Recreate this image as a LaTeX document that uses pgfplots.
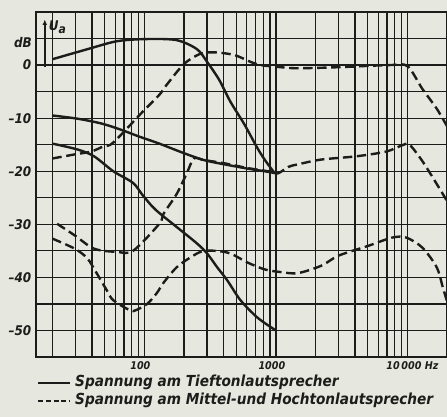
\documentclass[border=0pt]{standalone}
\usepackage{pgfplots}
\pgfplotsset{compat=1.18}
\usepackage{fontspec}
\setmainfont{DejaVu Sans Condensed}
\usetikzlibrary{arrows.meta}
\definecolor{paper}{RGB}{230,231,222}
\definecolor{ink}{RGB}{28,28,26}
\pagecolor{paper}
\begin{document}
\begin{tikzpicture}
\begin{axis}[
  xmode=log, xmin=15, xmax=20000, ymin=-55, ymax=10,
  scale only axis, width=308.25pt, height=258.75pt,
  axis line style={ink, line width=1.2pt},
  xtick={100,1000,10000}, xticklabels={100,1000,{}},
  minor xtick={20,30,40,50,60,70,80,90,200,300,400,500,600,700,800,900,2000,3000,4000,5000,6000,7000,8000,9000},
  ytick={-50,-45,-40,-35,-30,-25,-20,-15,-10,-5,0,5},
  yticklabels={--50,,--40,,--30,,--20,,--10,,0,},
  grid=both,
  major grid style={ink, line width=0.95pt},
  minor grid style={ink, line width=0.95pt},
  major tick length=0pt, minor tick length=0pt,
  yticklabel style={font=\bfseries\itshape\fontsize{10}{12}\selectfont, ink},
  xticklabel style={font=\bfseries\itshape\fontsize{8}{9}\selectfont, ink, xshift=-3pt},
  legend style={at={(0,0)}, anchor=north west, xshift=1pt, yshift=-13pt,
    draw=none, fill=none, inner sep=0pt, outer sep=0pt,
    font=\bfseries\itshape\fontsize{11.4}{13}\selectfont, text=ink,
    row sep=0pt, column sep=2pt,
    nodes={inner sep=1pt, text height=8.5pt, text depth=3pt, anchor=west}},
  legend cell align=left,
  legend image code/.code={\draw[#1] (0pt,0pt) -- (24pt,0pt);},
  every axis plot/.append style={ink, line width=1.8pt, smooth, tension=0.5},
]
\coordinate (sw) at (rel axis cs:0,0);
\coordinate (ne) at (rel axis cs:1,1);
\coordinate (tk) at (axis cs:10000,-55);
\addlegendimage{ink, line width=1.4pt, solid}
\addlegendentry{Spannung am Tieftonlautsprecher}
\addlegendimage{ink, line width=1.4pt, dash pattern=on 3.6pt off 2.2pt}
\addlegendentry{Spannung am Mittel-und Hochtonlautsprecher}
% Tiefton (solid)
\addplot[forget plot] coordinates {(20,1.1) (37,3.0) (62,4.5) (104,4.9) (176,4.7) (251,3.0) (300,0.6) (371,-2.8) (451,-6.9) (577,-11.2) (726,-15.7) (837,-18.1) (982,-20.4)};
\addplot[forget plot] coordinates {(20,-9.5) (31,-10.1) (47,-11) (65,-12.1) (92,-13.5) (130,-14.8) (200,-16.6) (284,-17.9) (405,-18.7) (609,-19.5) (867,-20.1) (1000,-20.4)};
\addplot[forget plot] coordinates {(20,-14.8) (31,-15.9) (41.5,-17.2) (58,-20) (82,-22.2) (97,-24.5) (121,-27.2) (176,-30.5) (251,-33.6) (300,-35.5) (358,-38.1) (428,-40.6) (538,-44.3) (726,-47.6) (1000,-50)};
% Mittel- und Hochton (dashed)
\addplot[forget plot, dash pattern=on 7pt off 3.5pt] coordinates {(20,-17.6) (30,-16.8) (39.4,-16.3) (49,-15.3) (58,-14.6) (97,-8.8) (130,-5.6) (148,-3.7) (200,0.2) (265,2.1) (339,2.4) (483,1.9) (642,0.6) (768,0) (1090,-0.4) (1470,-0.6) (3000,-0.4) (7300,0) (10000,-0.2) (13000,-4.5) (16700,-8.2) (20000,-11.5)};
\addplot[forget plot, dash pattern=on 7pt off 3.5pt] coordinates {(21.7,-29.9) (29.6,-32.1) (41.5,-34.6) (62,-35.2) (82,-35) (130,-29.9) (140,-28) (176,-24.3) (210,-20.4) (238,-17.6) (284,-17.9) (405,-18.5) (609,-19.4) (867,-20) (1035,-20.4) (1238,-19.2) (1470,-18.7) (2215,-17.8) (4050,-17.2) (6900,-16.3) (9150,-15.1) (10370,-15) (13000,-18.1) (16700,-22.4) (18600,-24.3) (20000,-25.6)};
\addplot[forget plot, dash pattern=on 7pt off 3.5pt] coordinates {(20,-32.7) (29.6,-34.6) (36.8,-36.4) (42.9,-39) (51.7,-42.4) (58,-44.3) (77.6,-46.2) (85.9,-46.2) (105,-45) (124,-43) (140,-41) (176,-38.1) (222,-36.3) (274,-35.1) (350,-35) (451,-35.5) (609,-37.2) (823,-38.5) (1090,-39) (1470,-39.2) (2215,-37.8) (3000,-35.9) (5120,-34) (7660,-32.5) (9800,-32.5) (13000,-34.4) (16700,-38.1) (18600,-41.9) (20000,-44.5)};
% annotations
\draw[ink, line width=1.1pt, -{Latex[length=4pt,width=3.5pt]}] (axis cs:17.5,-0.4) -- (axis cs:17.5,8.6);
\node[anchor=west, inner sep=0pt, text=ink, font=\bfseries\itshape\fontsize{10}{11}\selectfont] at (axis cs:18.7,7.2) {U\raisebox{-0.4ex}{\fontsize{9}{10}\selectfont a}};
\end{axis}
\node[anchor=east, inner sep=0pt, text=ink, font=\bfseries\itshape\fontsize{10}{12}\selectfont] at ([shift={(-3pt,-22.9pt)}]sw |- ne) {dB};
\node[anchor=north west, inner sep=0pt, text=ink, font=\bfseries\itshape\fontsize{8}{9}\selectfont] at ([shift={(-16pt,-3pt)}]tk) {10\,000 Hz};
\pgfresetboundingbox
\path[use as bounding box] ([shift={(-27pt,-45pt)}]sw) rectangle ([shift={(0pt,9pt)}]ne);
\end{tikzpicture}
\end{document}
